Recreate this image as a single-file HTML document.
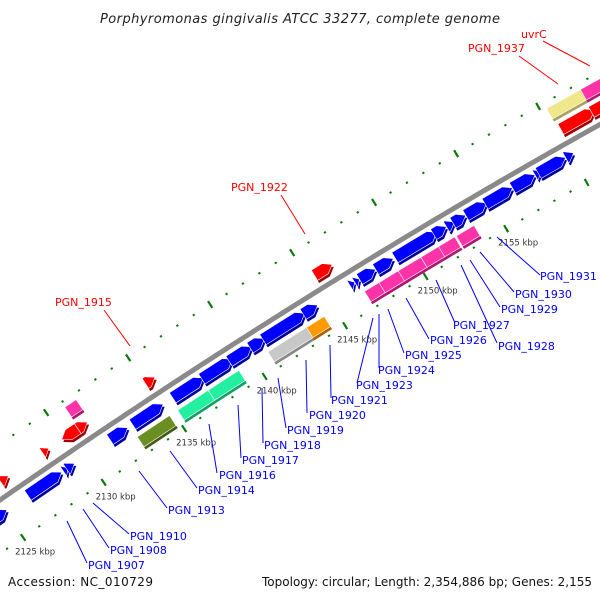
<!DOCTYPE html>
<html><head><meta charset="utf-8"><style>
html,body{margin:0;padding:0;background:#fff;}
svg{display:block;font-family:"DejaVu Sans","Liberation Sans",sans-serif;}
</style></head><body>
<svg id="map" width="600" height="600" viewBox="0 0 600 600" xmlns="http://www.w3.org/2000/svg">
<rect width="600" height="600" fill="#fff"/>
<text x="300" y="23" text-anchor="middle" font-size="13" font-style="italic" fill="#222" textLength="400">Porphyromonas gingivalis ATCC 33277, complete genome</text>
<g id="ticks"></g>
<path id="backbone" fill="none" stroke="#8a8a8a" stroke-width="5"/>
<g id="feats"></g>
<g id="labels"></g>
<text x="8" y="586" font-size="12" fill="#111" textLength="145">Accession: NC_010729</text>
<text x="592" y="586" text-anchor="end" font-size="12" fill="#111" textLength="330">Topology: circular; Length: 2,354,886 bp; Genes: 2,155</text>
</svg>
<script>
// data
const featStart = [2123.6,2126.2,2127.4,2128.4,2132.6,2143.1,2158.4,2160.3, 2127.8,2157.7,2159.8,
 2123.0,2125.3,2127.5,2127.7,2130.4,2131.8,2134.3,2136.1,2137.8,2139.1,2139.9,2142.4,2145.3,2145.6,2145.9,2146.9,2148.1,2150.5,2151.3,2151.7,2152.5,2153.7,2155.4,2156.8,2157.0,2158.7,
 2132.3,2134.8,2136.7,2140.4,2142.8,2146.4,2147.3,2148.5,2149.9,2151.0,2152.1];
const featEnd = [2124.1,2126.6,2128.4,2129.0,2133.2,2144.2,2160.5,2161.5, 2128.5,2160.0,2161.8,
 2124.0,2127.4,2127.8,2128.2,2131.5,2133.7,2136.2,2138.0,2139.2,2140.0,2142.5,2143.3,2145.6,2145.9,2146.9,2148.0,2150.7,2151.3,2151.8,2152.5,2153.8,2155.4,2156.8,2157.2,2158.7,2159.2,
 2134.3,2136.7,2138.6,2143.0,2143.9,2147.5,2148.7,2149.9,2151.2,2152.0,2153.2];
const featLane = [-1,-1,-1,-1,-1,-1,-1,-1, -2,-2,-2,
 1,1,1,1,1,1,1,1,1,1,1,1,1,1,1,1,1,1,1,1,1,1,1,1,1,1,
 2,2,2,2,2,2,2,2,2,2,2];
const featDir = [1,1,-1,1,1,1,1,1, 0,0,0,
 1,1,1,1,1,1,1,1,1,1,1,1,1,1,1,1,1,1,1,1,1,1,1,1,1,1,
 0,0,0,0,0,0,0,0,0,0,0];
const featColor = ["red","red","red","red","red","red","red","red","pink","khaki","pink",
 "blue","blue","blue","blue","blue","blue","blue","blue","blue","blue","blue","blue","blue","blue","blue","blue","blue","blue","blue","blue","blue","blue","blue","blue","blue","blue",
 "olive","teal","teal","gray","orange","pink","pink","pink","pink","pink","pink"];
const innerTickKbp = [2123,2124,2125,2126,2127,2128,2129,2130,2131,2132,2133,2134,2135,2136,2137,2138,2139,2140,2141,2142,2143,2144,2145,2146,2147,2148,2149,2150,2151,2152,2153,2154,2155,2156,2157,2158,2159,2160,2161];
const outerTickKbp = [2122,2123,2124,2125,2126,2127,2128,2129,2130,2131,2132,2133,2134,2135,2136,2137,2138,2139,2140,2141,2142,2143,2144,2145,2146,2147,2148,2149,2150,2151,2152,2153,2154,2155,2156,2157,2158,2159,2160];
const kbpLabels = [2125,2130,2135,2140,2145,2150,2155];

const NS="http://www.w3.org/2000/svg";
const palette={red:["#ff0000","#a00000"],blue:["#0000ff","#0000a0"],pink:["#ff33a8","#b01870"],khaki:["#f0e68c","#a8a060"],olive:["#6b8e23","#445a16"],teal:["#22f0a0","#10a068"],gray:["#c8c8c8","#888"],orange:["#ff9900","#b06000"]};
const laneOff={1:12,2:31,"-1":-15,"-2":-34};
function kx(k){return 23+(k-2125)*16.1;}
function by(x){return 500-0.694*x+0.0001134*x*x;}
function nrm(x){const m=-0.694+2*0.0001134*x;const L=Math.hypot(1,m);return [-m/L,1/L];}
function P(x,o){const n=nrm(x);return [x+o*n[0],by(x)+o*n[1]];}
function base(x,o){return x-o*nrm(x)[0];}
function el(t,a,p){const e=document.createElementNS(NS,t);for(const k in a)e.setAttribute(k,a[k]);p.appendChild(e);return e;}

let d="";for(let x=-10;x<=610;x+=5){d+=(x===-10?"M":"L")+x+","+by(x).toFixed(1)+" ";}
document.getElementById("backbone").setAttribute("d",d);

const tg=document.getElementById("ticks");
innerTickKbp.forEach(k=>{const b0=base(kx(k),44);const major=(k%5===0);const a=P(b0,major?40:43),b=P(b0,major?48:45);
 const t=el("line",{x1:a[0],y1:a[1],x2:b[0],y2:b[1],stroke:"#0a7a0a","stroke-width":2.2},tg);
 
 });
outerTickKbp.forEach(k=>{const b0=base(128+(k-2130)*16.4,-46);const major=(k%5===0);const a=P(b0,major?-50:-47),b=P(b0,major?-42:-45);
 const t=el("line",{x1:a[0],y1:a[1],x2:b[0],y2:b[1],stroke:"#0a7a0a","stroke-width":2.2},tg);
 
 });
kbpLabels.forEach(k=>{const p=P(base(kx(k),44),44);
 const t=el("text",{x:p[0]-8,y:p[1]+17,"font-size":"8.5",fill:"#333"},tg);t.textContent=k+" kbp";
 
 });

const fg=document.getElementById("feats");
for(let i=0;i<featStart.length;i++){
 const c=laneOff[featLane[i]];const x0=base(kx(featStart[i]),c),x1=base(kx(featEnd[i]),c);const h=12;const dir=featDir[i];
 const a=Math.min(7,x1-x0);let pts;
 if(dir===1){pts=[P(x0,c-h/2),P(x1-a,c-h/2),P(x1,c),P(x1-a,c+h/2),P(x0,c+h/2)];}
 else if(dir===-1){pts=[P(x0,c),P(x0+a,c-h/2),P(x1,c-h/2),P(x1,c+h/2),P(x0+a,c+h/2)];}
 else{pts=[P(x0,c-h/2),P(x1,c-h/2),P(x1,c+h/2),P(x0,c+h/2)];}
 const col=palette[featColor[i]];const n=nrm((x0+x1)/2);
 const sh=el("polygon",{points:pts.map(p=>(p[0]+n[0]*3).toFixed(1)+","+(p[1]+n[1]*3).toFixed(1)).join(" "),fill:col[1]},fg);
 
 
 const g=el("polygon",{points:pts.map(p=>p[0].toFixed(1)+","+p[1].toFixed(1)).join(" "),fill:col[0],stroke:"#fff","stroke-width":0.6},fg);
 
 
}

const labelText=["PGN_1907","PGN_1908","PGN_1910","PGN_1913","PGN_1914","PGN_1916","PGN_1917","PGN_1918","PGN_1919","PGN_1920","PGN_1921","PGN_1923","PGN_1924","PGN_1925","PGN_1926","PGN_1927","PGN_1928","PGN_1929","PGN_1930","PGN_1931","PGN_1915","PGN_1922","PGN_1937","uvrC"];
const labelPos=[[88,569,67,521,87,563],[110,554,83,509,109,548],[130,540,93,503,129,534],[168,514,139,471,167,508],[198,494,170,451,197,488],[219,479,209,424,217,473],[242,464,238,405,241,458],[264,449,262,388,263,443],[287,434,278,378,286,428],[309,419,306,360,307,413],[331,404,330,345,331,398],[356,389,373,318,357,383],[378,374,379,314,379,368],[405,359,388,309,404,353],[430,344,406,298,429,339],[453,329,436,280,455,323],[498,350,461,265,497,343],[501,313,470,260,500,307],[515,298,480,252,514,292],[540,280,497,237,540,275],[55,306,104,310,130,346],[231,191,281,195,305,234],[468,52,519,56,558,84],[521,38,543,41,590,66]];
const lg=document.getElementById("labels");
labelText.forEach((s,i)=>{const p=labelPos[i];const col=i>=20?"#ff0000":"#0000ff";
 const ln=el("line",{x1:p[2],y1:p[3],x2:p[4],y2:p[5],stroke:col,"stroke-width":1},lg);
 
 
 const t=el("text",{x:p[0],y:p[1],"font-size":"11",fill:col},lg);t.textContent=s;
 
 });
</script>
</body></html>
